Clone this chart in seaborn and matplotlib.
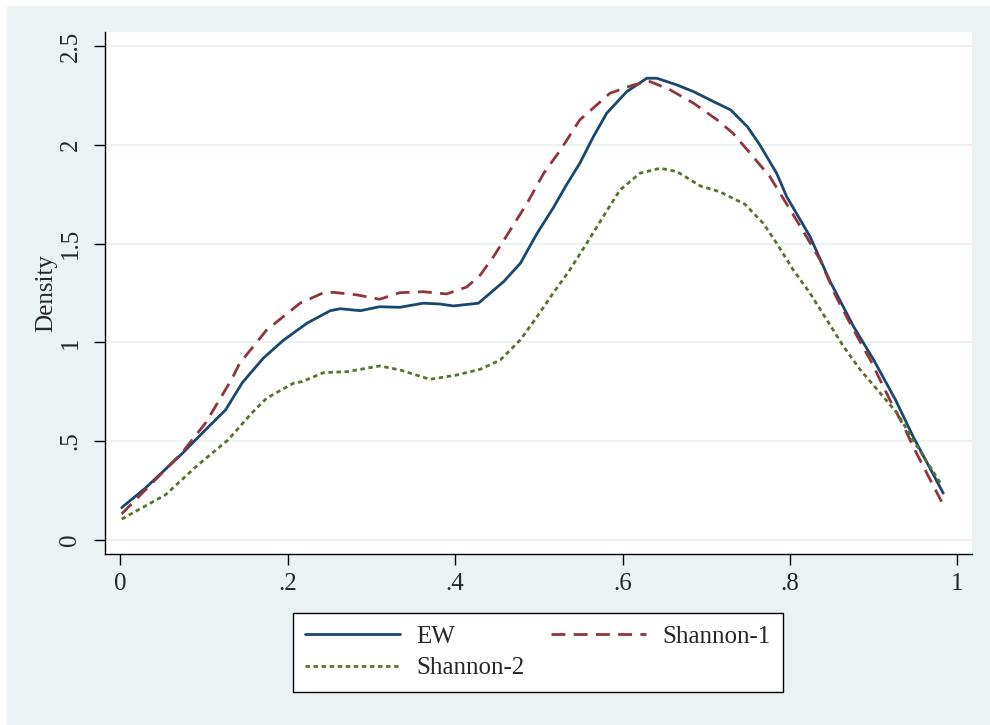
import seaborn as sns
import matplotlib.pyplot as plt
import pandas as pd
from matplotlib.patches import Rectangle

# EW density
ew_x = [0.002, 0.030, 0.074, 0.102, 0.126, 0.146, 0.171, 0.195, 0.223, 0.251, 0.263,
        0.287, 0.310, 0.334, 0.362, 0.382, 0.398, 0.428, 0.458, 0.478, 0.498, 0.517,
        0.533, 0.549, 0.565, 0.581, 0.605, 0.629, 0.641, 0.665, 0.685, 0.709, 0.729,
        0.749, 0.764, 0.784, 0.796, 0.824, 0.848, 0.876, 0.900, 0.926, 0.947, 0.983]
ew_y = [0.162, 0.260, 0.435, 0.556, 0.657, 0.795, 0.919, 1.010, 1.096, 1.160, 1.170,
        1.160, 1.180, 1.177, 1.198, 1.194, 1.184, 1.198, 1.307, 1.400, 1.552, 1.679,
        1.797, 1.907, 2.040, 2.160, 2.270, 2.338, 2.338, 2.304, 2.270, 2.219, 2.178,
        2.093, 2.000, 1.857, 1.738, 1.535, 1.307, 1.079, 0.910, 0.708, 0.522, 0.235]

# Shannon-1
s1_x = [0.002, 0.038, 0.074, 0.102, 0.133, 0.143, 0.175, 0.215, 0.243, 0.255, 0.283,
        0.310, 0.334, 0.362, 0.390, 0.414, 0.430, 0.446, 0.466, 0.486, 0.506, 0.526,
        0.549, 0.585, 0.613, 0.633, 0.657, 0.685, 0.713, 0.732, 0.754, 0.776, 0.815,
        0.836, 0.855, 0.876, 0.896, 0.919, 0.937, 0.947, 0.981]
s1_y = [0.130, 0.285, 0.440, 0.590, 0.810, 0.894, 1.062, 1.198, 1.251, 1.253, 1.240,
        1.218, 1.251, 1.256, 1.245, 1.280, 1.340, 1.434, 1.569, 1.704, 1.857, 1.975,
        2.127, 2.262, 2.304, 2.321, 2.279, 2.211, 2.127, 2.059, 1.950, 1.839, 1.569,
        1.417, 1.231, 1.062, 0.910, 0.710, 0.564, 0.471, 0.192]

# Shannon-2
s2_x = [0.002, 0.054, 0.093, 0.129, 0.157, 0.175, 0.189, 0.207, 0.217, 0.243, 0.271,
        0.310, 0.334, 0.370, 0.402, 0.430, 0.454, 0.478, 0.498, 0.517, 0.537, 0.557,
        0.577, 0.597, 0.621, 0.645, 0.665, 0.693, 0.716, 0.746, 0.768, 0.784, 0.804,
        0.824, 0.844, 0.864, 0.884, 0.908, 0.928, 0.947, 0.981]
s2_y = [0.104, 0.226, 0.378, 0.505, 0.640, 0.716, 0.750, 0.792, 0.800, 0.846, 0.851,
        0.880, 0.860, 0.812, 0.834, 0.863, 0.910, 1.012, 1.130, 1.248, 1.366, 1.500,
        1.637, 1.772, 1.857, 1.882, 1.865, 1.792, 1.763, 1.700, 1.603, 1.502, 1.366,
        1.248, 1.113, 0.978, 0.860, 0.741, 0.640, 0.505, 0.277]

x_ticks = [0, 0.2, 0.4, 0.6, 0.8, 1]
x_labels = ['0', '.2', '.4', '.6', '.8', '1']
y_ticks = [0, 0.5, 1, 1.5, 2, 2.5]
y_labels = ['0', '.5', '1', '1.5', '2', '2.5']

BG = '#eaf2f3'
sns.set_style("ticks")
plt.rcParams['font.family'] = ['Liberation Serif', 'DejaVu Serif']

fig = plt.figure(figsize=(9.9, 7.25), dpi=100, facecolor=BG)
# thin white strip at top and left, like the cropped Stata export
fig.patches.append(Rectangle((0, 1 - 5 / 725), 1, 5 / 725, transform=fig.transFigure,
                             color='white', zorder=0))
fig.patches.append(Rectangle((0, 0), 6 / 990, 1, transform=fig.transFigure,
                             color='white', zorder=0))

ax = fig.add_axes([0.1061, 0.2359, 0.8757, 0.7204])
ax.set_facecolor('white')

series = [
    ('EW', ew_x, ew_y, '#1a476f', ''),
    ('Shannon-1', s1_x, s1_y, '#90353b', (5, 3)),
    ('Shannon-2', s2_x, s2_y, '#55752f', (1.6, 1.3)),
]
for name, xs, ys, col, dash in series:
    df = pd.DataFrame({'x': xs, 'y': ys})
    sns.lineplot(data=df, x='x', y='y', ax=ax, color=col, lw=2.0,
                 label=name, sort=False)
    if dash:
        ax.lines[-1].set_dashes(dash)

ax.set_xlim(-0.0179, 1.0173)
ax.set_ylim(-0.073, 2.574)

ax.set_xticks(x_ticks)
ax.set_xticklabels(x_labels, fontsize=18)
ax.set_yticks(y_ticks)
ax.set_yticklabels(y_labels, fontsize=18, rotation=90, va='center')
ax.tick_params(axis='both', direction='out', length=8, width=1, color='black')
ax.tick_params(axis='x', pad=6)
ax.tick_params(axis='y', pad=9)

for yv in y_ticks:
    ax.axhline(yv, color=BG, lw=1.3, zorder=0.5)

ax.spines['top'].set_visible(False)
ax.spines['right'].set_visible(False)
ax.spines['left'].set_linewidth(1.0)
ax.spines['bottom'].set_linewidth(1.0)
ax.spines['left'].set_color('black')
ax.spines['bottom'].set_color('black')

ax.set_xlabel('')
ax.set_ylabel('Density', fontsize=18)
ax.yaxis.set_label_coords(-0.055, 0.5)

# legend reads row by row: EW, Shannon-1 / Shannon-2
handles, labels = ax.get_legend_handles_labels()
ax.legend_.remove()
order = [0, 2, 1]
leg = fig.legend([handles[i] for i in order], [labels[i] for i in order],
                 ncol=2, loc='center', mode='expand',
                 bbox_to_anchor=(0.2957, 0.0437, 0.4955, 0.1126),
                 bbox_transform=fig.transFigure, fontsize=18, borderaxespad=0,
                 handlelength=3.8, handletextpad=0.65, borderpad=0.5,
                 labelspacing=0.35, fancybox=False, framealpha=1,
                 facecolor='white', edgecolor='black')
leg.get_frame().set_linewidth(1.0)

plt.savefig('out.png', dpi=100, facecolor=BG)
